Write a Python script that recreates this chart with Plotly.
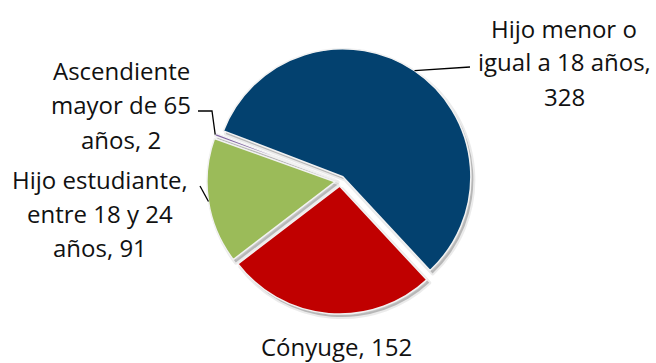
import math
import plotly.graph_objects as go

# Dependent counts by relationship type (clockwise from the top-left)
categories = [
    "Hijo menor o igual a 18 años",
    "Cónyuge",
    "Hijo estudiante, entre 18 y 24 años",
    "Ascendiente mayor de 65 años",
]
values = [328, 152, 91, 2]
colors = ["#03416F", "#C00000", "#9BBB59", "#8064A2"]

# How each data label is wrapped onto lines ({v} = value)
label_lines = [
    ["Hijo menor o", "igual a 18 años,", "{v}"],
    ["Cónyuge, {v}"],
    ["Hijo estudiante,", "entre 18 y 24", "años, {v}"],
    ["Ascendiente", "mayor de 65", "años, {v}"],
]

W, H = 656, 363
CX, CY, R = 340, 181, 128          # pie centre and radius in pixels
PULL = 0.04
ROTATION = 291                     # start angle of first slice, clockwise from 12 o'clock

# Label block centres (px) and leader-line elbows
label_pos = [(564, 62), (336, 346), (100, 213), (121, 105)]
leader_end = [(470, 67), None, (200, 186), (198, 111)]
leader_elbow = [None, None, None, (212, 111)]

FONT = "Open Sans"
FS = 24
LINE_H = 34

side = 2 * R * (1 + PULL)
dom_x = [(CX - side / 2) / W, (CX + side / 2) / W]
dom_y = [1 - (CY + side / 2) / H, 1 - (CY - side / 2) / H]


def px_to_paper(x, y):
    return x / W, 1 - y / H


fig = go.Figure()

# soft drop shadow under the slices
sx, sy = 2.5, 3
fig.add_trace(go.Pie(
    labels=categories, values=values, sort=False, direction="clockwise",
    rotation=ROTATION, pull=[PULL] * len(values),
    domain=dict(x=[dom_x[0] + sx / W, dom_x[1] + sx / W],
                y=[dom_y[0] - sy / H, dom_y[1] - sy / H]),
    marker=dict(colors=["rgba(0,0,0,0.22)"] * len(values),
                line=dict(color="rgba(0,0,0,0.08)", width=4)),
    textinfo="none", hoverinfo="skip", showlegend=False,
))

fig.add_trace(go.Pie(
    labels=categories, values=values, sort=False, direction="clockwise",
    rotation=ROTATION, pull=[PULL] * len(values),
    domain=dict(x=dom_x, y=dom_y),
    marker=dict(colors=colors, line=dict(color="#F2F2F2", width=1.5)),
    textinfo="none", showlegend=False,
))

# data labels and leader lines
total = sum(values)
angle = ROTATION
shapes = []
annotations = []
for i, v in enumerate(values):
    span = 360 * v / total
    mid = math.radians(angle + span / 2)
    angle += span
    lines = [s.format(v=v) for s in label_lines[i]]
    lx, ly = label_pos[i]
    n = len(lines)
    for k, txt in enumerate(lines):
        yy = ly + (k - (n - 1) / 2) * LINE_H
        px, py = px_to_paper(lx, yy)
        annotations.append(dict(
            x=px, y=py, xref="paper", yref="paper", text=txt, showarrow=False,
            xanchor="center", yanchor="middle",
            font=dict(family=FONT, size=FS, color="#111111"),
        ))
    if leader_end[i] is not None:
        rr = R * (1 + PULL)
        ex = CX + rr * math.sin(mid)
        ey = CY - rr * math.cos(mid)
        pts = [(ex, ey)]
        if leader_elbow[i] is not None:
            pts.append(leader_elbow[i])
        pts.append(leader_end[i])
        path = "M " + " L ".join(
            "{:.5f},{:.5f}".format(*px_to_paper(x, y)) for x, y in pts)
        shapes.append(dict(type="path", path=path, xref="paper", yref="paper",
                           line=dict(color="#000000", width=1.3)))

fig.update_layout(
    width=W, height=H, margin=dict(l=0, r=0, t=0, b=0),
    paper_bgcolor="white", plot_bgcolor="white",
    shapes=shapes, annotations=annotations, showlegend=False,
)

fig.write_html("out.html")
